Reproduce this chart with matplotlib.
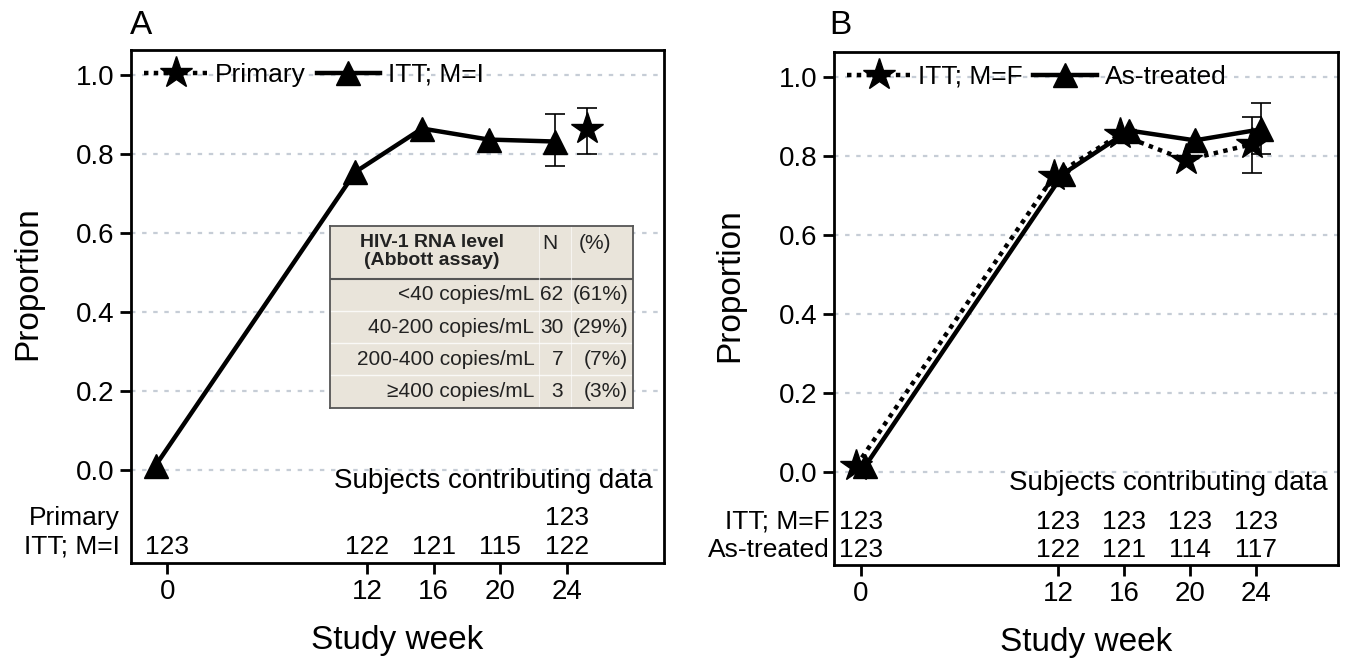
import matplotlib
matplotlib.use('Agg')
from matplotlib import pyplot as plt
from matplotlib.lines import Line2D
from matplotlib.transforms import blended_transform_factory

plt.rcParams['font.family'] = ['Liberation Sans', 'DejaVu Sans']

# Study weeks shown on the x axis.
weeks = [0, 12, 16, 20, 24]

# Panel A values.
a_itt = [0.01, 0.755, 0.865, 0.837, 0.832]
a_itt_ci = (0.770, 0.903)          # week 24
a_primary = [0.865]                # week 24 only
a_primary_weeks = [24]
a_primary_ci = (0.800, 0.918)
a_primary_n = {24: 123}
a_itt_n = [123, 122, 121, 115, 122]

# Panel B values.
b_itt_mf = [0.015, 0.750, 0.855, 0.790, 0.830]
b_itt_mf_ci = (0.758, 0.899)
b_treated = [0.015, 0.755, 0.865, 0.840, 0.868]
b_treated_ci = (0.806, 0.934)
b_itt_mf_n = [123, 123, 123, 123, 123]
b_treated_n = [123, 122, 121, 114, 117]

# Inset table in panel A.
table_labels = ['<40 copies/mL', '40-200 copies/mL', '200-400 copies/mL', '\u2265400 copies/mL']
table_n = [62, 30, 7, 3]
table_pct = ['(61%)', '(29%)', '(7%)', '(3%)']

yticks = [0.0, 0.2, 0.4, 0.6, 0.8, 1.0]
ylim = (-0.236, 1.065)
grid_col = '#c6cdd6'


def style_axes(ax, xlim, ylab_x):
  ax.set_xlim(*xlim)
  ax.set_ylim(*ylim)
  ax.set_xticks(weeks)
  ax.set_yticks(yticks)
  ax.set_yticklabels(['%.1f' % v for v in yticks])
  ax.tick_params(labelsize=20, width=2, length=8, direction='out', pad=4)
  for s in ax.spines.values():
    s.set_linewidth(2)
  for v in yticks:
    ax.axhline(v, color=grid_col, lw=1.6, ls=(0, (2, 3)), zorder=0)
  ax.set_xlabel('Study week', fontsize=24, labelpad=14)
  ax.set_ylabel('Proportion', fontsize=24)
  ax.yaxis.set_label_coords(ylab_x, 0.545)
  ax.text(0.98, -0.028, 'Subjects contributing data', fontsize=20, ha='right', va='center',
          transform=blended_transform_factory(ax.transAxes, ax.transData))


def count_rows(ax, names, rows, ys, gap):
  tr = blended_transform_factory(ax.transAxes, ax.transData)
  for name, row, y in zip(names, rows, ys):
    ax.text(-gap, y, name, fontsize=19, ha='right', va='center', transform=tr, clip_on=False)
    for wk, n in row.items():
      ax.text(wk, y, str(n), fontsize=19, ha='center', va='center')


def err(ax, x, y, ci):
  ax.errorbar([x], [y], yerr=[[y - ci[0]], [ci[1] - y]], fmt='none', ecolor='black',
              elinewidth=1.2, capsize=7, capthick=1.2, zorder=4)


star_kw = dict(color='black', ls=(0, (1, 1.2)), lw=3.2, marker='*', markersize=24)
tri_kw = dict(color='black', ls='-', lw=3.2, marker='^', markersize=17)
leg_kw = dict(loc='upper left', ncol=2, frameon=False, fontsize=19, handlelength=2.4,
              handletextpad=0.3, columnspacing=0.4, borderaxespad=0.3, borderpad=0.2)

fig = plt.figure(figsize=(13.49, 6.62), dpi=100)

# ---- Panel A ----
axA = fig.add_axes([0.097, 0.150, 0.395, 0.775])
style_axes(axA, (-2.18, 29.8), -0.165)
a_itt_x = [w - 0.7 for w in weeks]
axA.plot(a_itt_x, a_itt, zorder=3, **tri_kw)
err(axA, a_itt_x[-1], a_itt[-1], a_itt_ci)
a_prim_x = [w + 1.2 for w in a_primary_weeks]
axA.plot(a_prim_x, a_primary, zorder=3, **star_kw)
err(axA, a_prim_x[0], a_primary[0], a_primary_ci)
hA = [Line2D([], [], **star_kw), Line2D([], [], **tri_kw)]
axA.legend(hA, ['Primary', 'ITT; M=I'], **leg_kw)
count_rows(axA, ['Primary', 'ITT; M=I'],
           [a_primary_n, dict(zip(weeks, a_itt_n))], [-0.122, -0.195], 0.02)
fig.text(0.096, 0.962, 'A', fontsize=24, ha='left', va='center')

# Inset table.
ins = axA.inset_axes([0.374, 0.302, 0.568, 0.354])
ins.set_facecolor('#e9e4da')
ins.set_xlim(0, 1)
ins.set_ylim(0, 1)
ins.set_xticks([])
ins.set_yticks([])
for s in ins.spines.values():
  s.set_color('#555555')
  s.set_linewidth(1.3)
ins.axhline(0.711, color='#555555', lw=1.5)
for yy in [0.533, 0.356, 0.178]:
  ins.axhline(yy, color='white', lw=1.0, alpha=0.8)
for xx in [0.69, 0.795]:
  ins.axvline(xx, color='white', lw=0.8, alpha=0.6)
tcol = '#222222'
ins.text(0.335, 0.862, 'HIV-1 RNA level\n(Abbott assay)', fontsize=14, fontweight='bold',
         ha='center', va='center', color=tcol, linespacing=1.1)
ins.text(0.725, 0.905, 'N', fontsize=15, ha='center', va='center', color=tcol)
ins.text(0.876, 0.905, '(%)', fontsize=15, ha='center', va='center', color=tcol)
for i, (lab, n, p) in enumerate(zip(table_labels, table_n, table_pct)):
  y = 0.622 - i * 0.178
  ins.text(0.675, y, lab, fontsize=15, ha='right', va='center', color=tcol)
  ins.text(0.77, y, str(n), fontsize=15, ha='right', va='center', color=tcol)
  ins.text(0.985, y, p, fontsize=15, ha='right', va='center', color=tcol)

# ---- Panel B ----
axB = fig.add_axes([0.618, 0.147, 0.374, 0.775])
style_axes(axB, (-1.63, 29.0), -0.175)
b_star_x = [w - 0.25 for w in weeks]
b_tri_x = [w + 0.3 for w in weeks]
axB.plot(b_star_x, b_itt_mf, zorder=3, **star_kw)
axB.plot(b_tri_x, b_treated, zorder=3, **tri_kw)
err(axB, b_star_x[-1], b_itt_mf[-1], b_itt_mf_ci)
err(axB, b_tri_x[-1], b_treated[-1], b_treated_ci)
hB = [Line2D([], [], **star_kw), Line2D([], [], **tri_kw)]
axB.legend(hB, ['ITT; M=F', 'As-treated'], **leg_kw)
count_rows(axB, ['ITT; M=F', 'As-treated'],
           [dict(zip(weeks, b_itt_mf_n)), dict(zip(weeks, b_treated_n))], [-0.127, -0.198], 0.008)
fig.text(0.615, 0.962, 'B', fontsize=24, ha='left', va='center')

fig.savefig('out.png', dpi=100)
